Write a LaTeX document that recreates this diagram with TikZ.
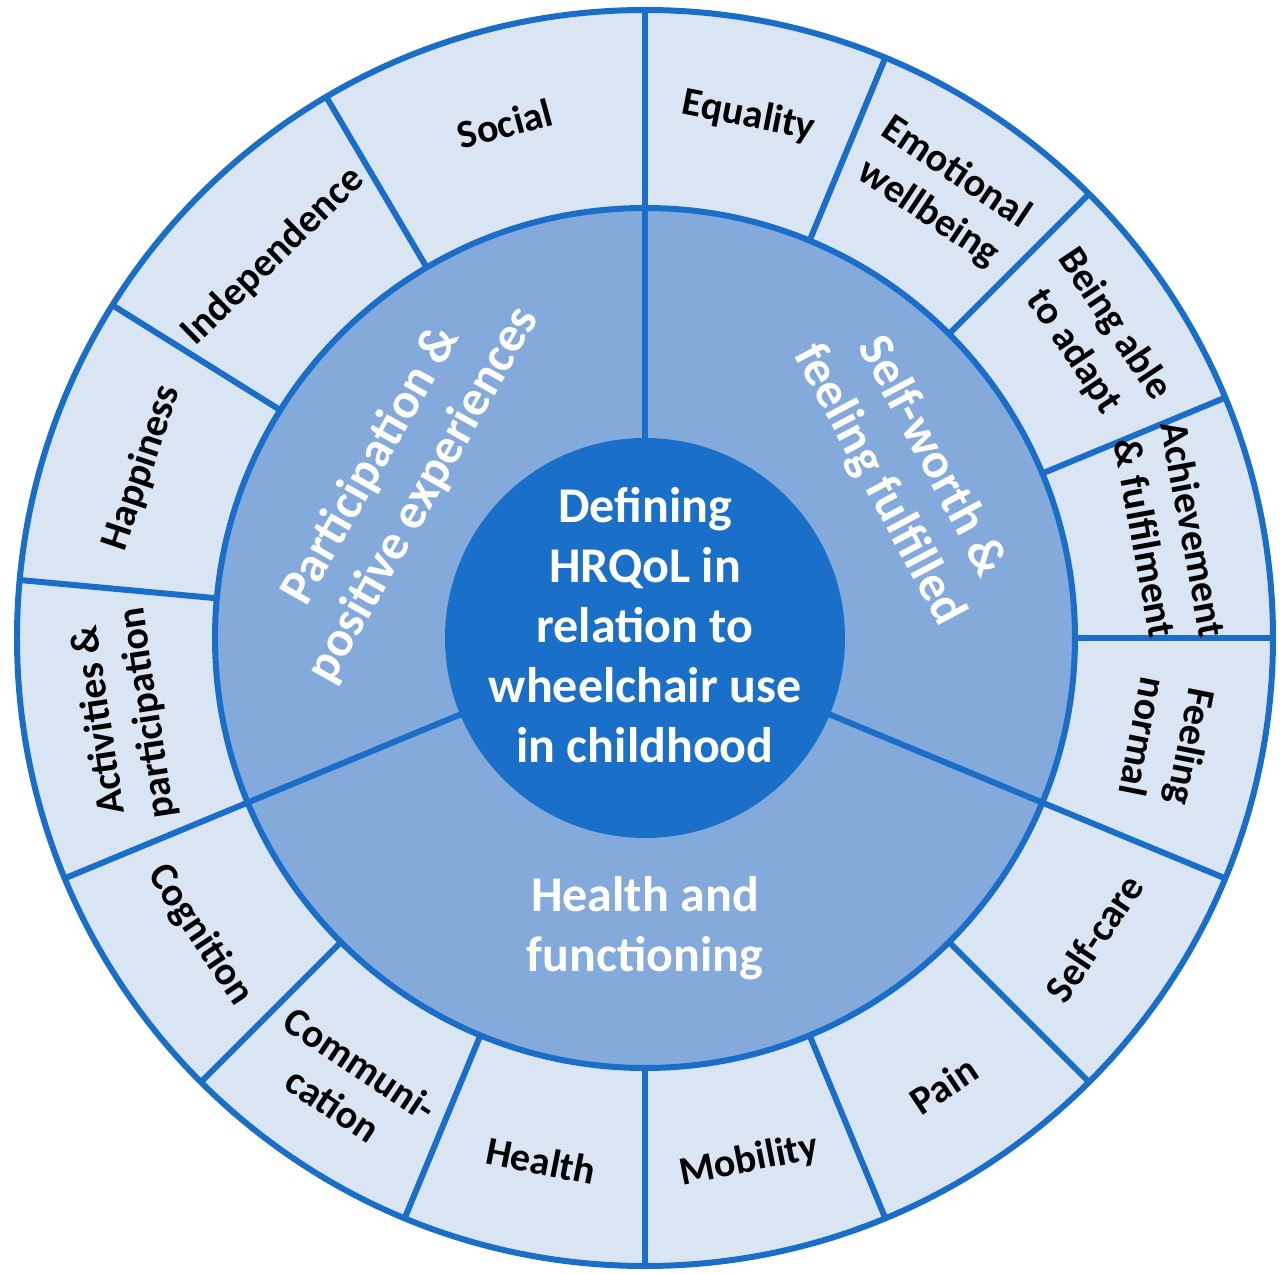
\documentclass[tikz,border=0pt]{standalone}
\usepackage{fontspec}
\setmainfont{Carlito}
\definecolor{outerfill}{HTML}{DAE5F4}
\definecolor{midfill}{HTML}{84AADC}
\definecolor{corefill}{HTML}{1A70C8}
\definecolor{lineblue}{HTML}{1A6EC8}
\tikzset{
  ringline/.style={draw=lineblue, line width=3pt},
  outerlabel/.style={text=black, font=\fontsize{20}{24.5}\selectfont\bfseries, align=center, inner sep=0pt},
  midlabel/.style={text=white, font=\fontsize{25}{30}\selectfont\bfseries, align=center, inner sep=0pt},
}
\begin{document}
\begin{tikzpicture}[x=0.5pt,y=0.5pt]
\useasboundingbox (-645,-636) rectangle (640,638);
% discs
\fill[outerfill] (0,0) circle (628);
\fill[midfill] (0,0) circle (430);
% spokes of the outer ring
\foreach \a in {90,120.5,148,174.7,202.5,67.5,45,22.5,0,-22.5,-45,-67.5,-90,-112.5,-135}
  \draw[ringline] (\a:430) -- (\a:628);
% inner sector dividers
\foreach \a in {90,-22.5,202.5}
  \draw[ringline] (\a:190) -- (\a:430);
\draw[ringline] (0,0) circle (628);
\draw[ringline] (0,0) circle (430);
\fill[corefill] (0,0) circle (200);
% centre
\node[midlabel] (core) at (0,13) {Defining\\HRQoL in\\relation to\\wheelchair use\\in childhood};
% middle ring
\node[midlabel, rotate=60.5] (part) at (-248,158) {Participation \&\\positive experiences};
\node[midlabel, rotate=-62] (self) at (260,167) {Self-worth \&\\feeling fulfilled};
\node[midlabel] (hf) at (0,-290) {Health and\\functioning};
% outer ring labels
\node[outerlabel, rotate=15.25] (social) at (105.25:533) {Social};
\node[outerlabel, rotate=44.25] (indep) at (134.25:533) {Independence};
\node[outerlabel, rotate=71.3] (happy) at (161.3:531) {Happiness};
\node[outerlabel, rotate=98.6] (activ) at (188.6:527) {Activities \&\\participation};
\node[outerlabel, rotate=-11.25] (equal) at (78.75:532) {Equality};
\node[outerlabel, rotate=-33.75] (emot) at (56.25:535) {Emotional\\wellbeing};
\node[outerlabel, rotate=-56.25] (adapt) at (33.75:540) {Being able\\to adapt};
\node[outerlabel, rotate=-79.5] (achieve) at (11.25:535) {Achievement\\\& fulfilment};
\node[outerlabel, rotate=-101.25] (normal) at (-11.25:533) {Feeling\\normal};
\node[outerlabel, rotate=56.25] (selfcare) at (-33.75:540) {Self-care};
\node[outerlabel, rotate=33.75] (pain) at (-56.25:538) {Pain};
\node[outerlabel, rotate=11.25] (mobility) at (-78.75:533) {Mobility};
\node[outerlabel, rotate=-11.25] (health) at (-101.25:533) {Health};
\node[outerlabel, rotate=-33.75] (comm) at (-123.75:537) {Communi-\\cation};
\node[outerlabel, rotate=-56.25] (cogn) at (-146.25:535) {Cognition};
\end{tikzpicture}
\end{document}
